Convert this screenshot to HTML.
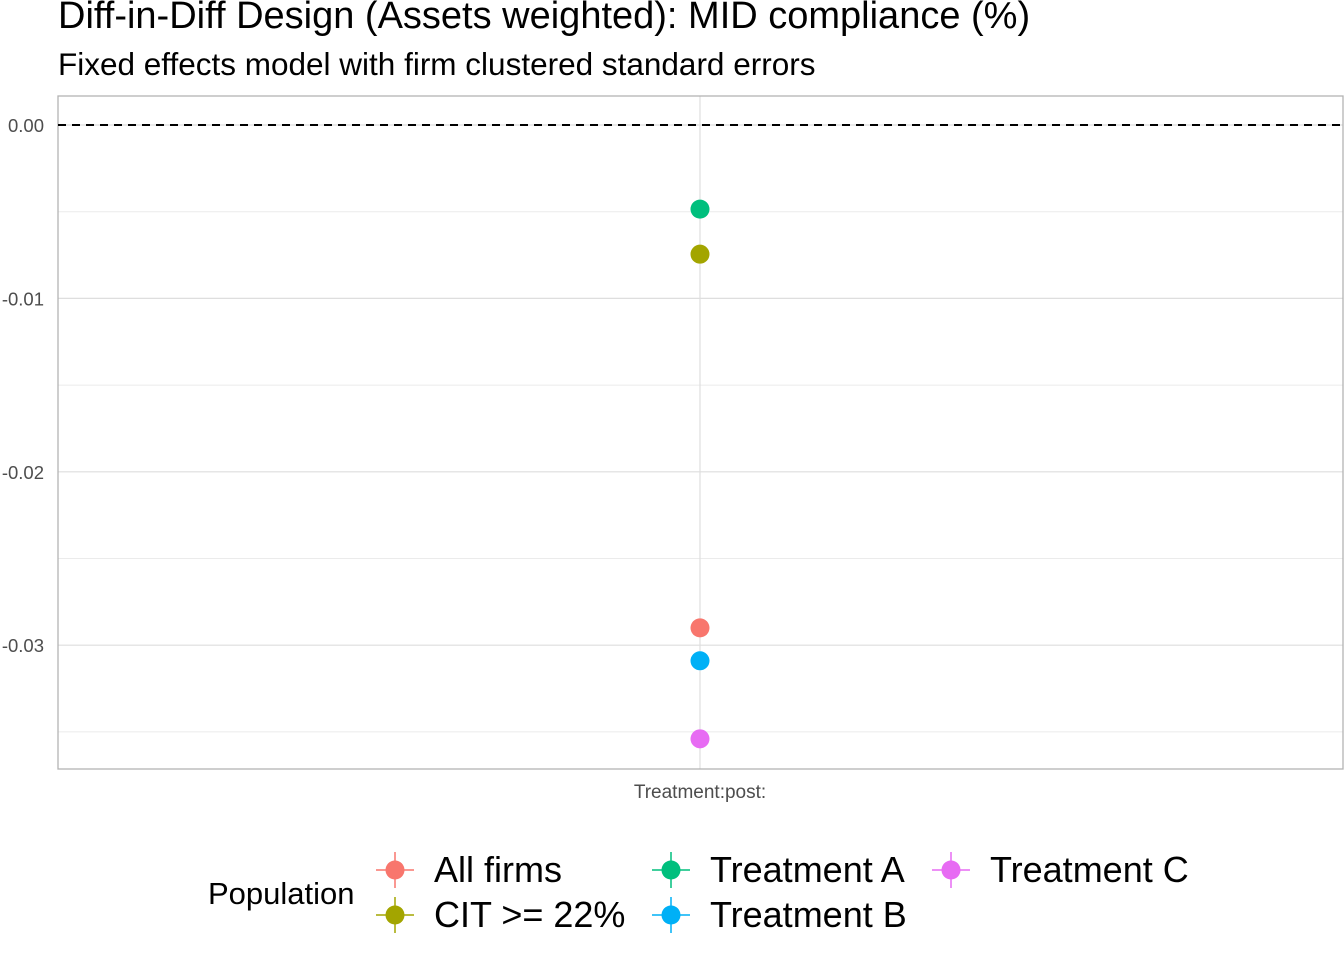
<!DOCTYPE html>
<html><head><meta charset="utf-8"><style>
body{margin:0;background:#fff;font-family:"Liberation Sans",Arial,sans-serif}
</style></head><body>
<svg width="1344" height="960" xmlns="http://www.w3.org/2000/svg" font-family="Liberation Sans, Arial, sans-serif">
<text x="58" y="28" font-size="38" fill="#000">Diff-in-Diff Design (Assets weighted): MID compliance (%)</text>
<text x="58" y="75" font-size="31.5" fill="#000">Fixed effects model with firm clustered standard errors</text>
<g id="grid"></g>
<rect x="58" y="96" width="1285" height="673" fill="none" stroke="#b3b3b3" stroke-width="1.3"/>
<g id="yticks"></g>
<line x1="58" x2="1343" id="zero" stroke="#000" stroke-width="2" stroke-dasharray="8,6"/>
<g id="points"></g>
<text x="700" y="798" font-size="19" fill="#4d4d4d" text-anchor="middle">Treatment:post:</text>
<g id="legend">
<text x="208" y="904" font-size="31" fill="#000">Population</text>
</g>
</svg>
<script>
const categories=["All firms","CIT >= 22%","Treatment A","Treatment B","Treatment C"];
const estimates=[-0.0290,-0.00745,-0.00485,-0.0309,-0.0354];
const colors=["#F8766D","#A3A500","#00BF7D","#00B0F6","#E76BF3"];
const yTicks=[0,-0.01,-0.02,-0.03];
const yTickLabels=["0.00","-0.01","-0.02","-0.03"];
const yMinor=[-0.005,-0.015,-0.025,-0.035];
const ns="http://www.w3.org/2000/svg";
const y=v=>125-v/0.01*173.4;
const xc=700;
function mk(t,a,p){const e=document.createElementNS(ns,t);for(const k in a)e.setAttribute(k,a[k]);p.appendChild(e);return e;}
const grid=document.getElementById('grid');
yMinor.forEach(v=>{const l=mk('line',{x1:58,x2:1343,y1:y(v),y2:y(v),stroke:'#ebebeb','stroke-width':1},grid);

});
yTicks.forEach(v=>{const l=mk('line',{x1:58,x2:1343,y1:y(v),y2:y(v),stroke:'#dedede','stroke-width':1.2},grid);

});
const vl=mk('line',{x1:xc,x2:xc,y1:96,y2:769,stroke:'#dedede','stroke-width':1.2},grid);


const yt=document.getElementById('yticks');
yTicks.forEach((v,i)=>{const t=mk('text',{x:44,y:y(v)+7,'font-size':18.5,fill:'#4d4d4d','text-anchor':'end'},yt);t.textContent=yTickLabels[i];

});
const z=document.getElementById('zero');z.setAttribute('y1',y(0));z.setAttribute('y2',y(0));
const pg=document.getElementById('points');
estimates.forEach((v,i)=>{const c=mk('circle',{cx:xc,cy:y(v),r:9.5,fill:colors[i]},pg);

});
const lg=document.getElementById('legend');
const lpos=[[395,870],[395,915],[671,870],[671,915],[951,870]];
categories.forEach((c,i)=>{const [kx,ky]=lpos[i];
const g=mk('g',{},lg);


mk('line',{x1:kx-19,x2:kx+19,y1:ky,y2:ky,stroke:colors[i],'stroke-width':1.5},g);
mk('line',{x1:kx,x2:kx,y1:ky-18,y2:ky+18,stroke:colors[i],'stroke-width':1.5},g);
mk('circle',{cx:kx,cy:ky,r:9.5,fill:colors[i]},g);
const t=mk('text',{x:kx+39,y:ky+12,'font-size':36,fill:'#000'},g);t.textContent=c;});
</script>
</body></html>
